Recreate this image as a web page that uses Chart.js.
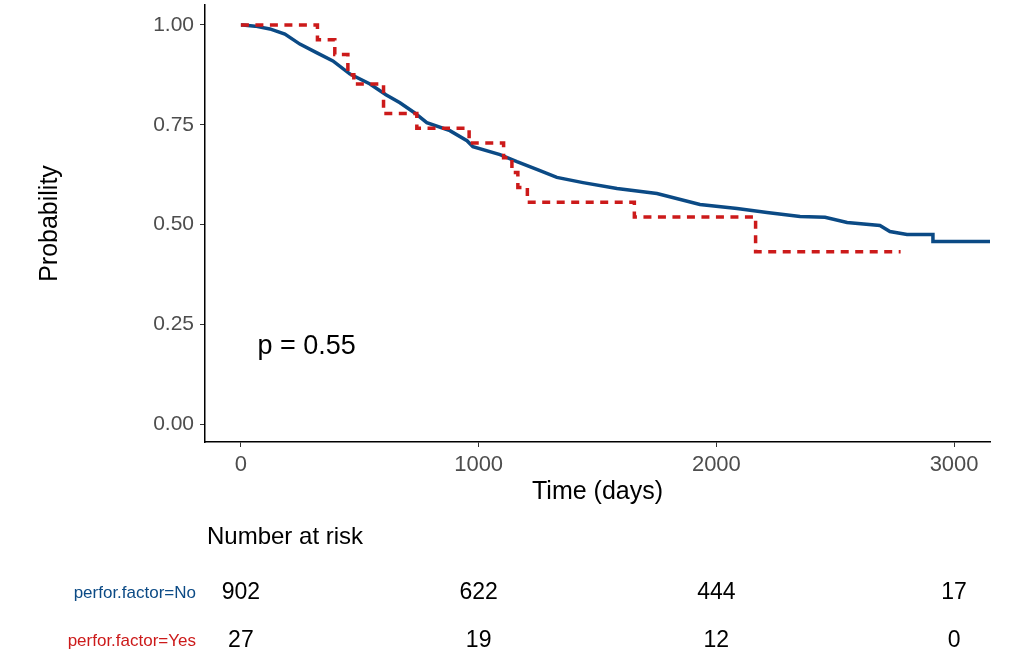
<!DOCTYPE html>
<html>
<head>
<meta charset="utf-8">
<script src="https://cdn.jsdelivr.net/npm/chart.js@4"></script>
<style>
  html, body { margin: 0; padding: 0; background: #fff; }
  #wrap { width: 1029px; height: 672px; }
</style>
</head>
<body>
<div id="wrap"><canvas id="km" width="1029" height="672"></canvas></div>
<script>
// survival curve, perfor.factor=No
var noTime = [0, 8, 60, 122, 185, 248, 320, 387, 459, 543, 610, 669, 730, 782, 879, 951, 976, 1090, 1161, 1250, 1329, 1439, 1582, 1750, 1931, 2087, 2213, 2352, 2457, 2550, 2688, 2730, 2802, 2911, 2911, 3151];
var noSurv = [1.0, 1.0, 0.997, 0.99, 0.977, 0.952, 0.93, 0.91, 0.877, 0.852, 0.825, 0.805, 0.78, 0.755, 0.735, 0.71, 0.695, 0.675, 0.6575, 0.637, 0.618, 0.605, 0.59, 0.5775, 0.55, 0.54, 0.53, 0.52, 0.518, 0.505, 0.4975, 0.4825, 0.475, 0.475, 0.4575, 0.4575];

// survival curve, perfor.factor=Yes (step)
var yesTime = [0, 322, 395, 450, 475, 600, 740, 960, 1105, 1140, 1165, 1205, 1655, 2165, 2775];
var yesSurv = [1.0, 0.963, 0.926, 0.875, 0.852, 0.778, 0.741, 0.704, 0.667, 0.63, 0.593, 0.556, 0.519, 0.432, 0.432];

// number at risk
var riskTimes = [0, 1000, 2000, 3000];
var riskNo = [902, 622, 444, 17];
var riskYes = [27, 19, 12, 0];

var xTicks = [0, 1000, 2000, 3000];
var yTicks = [0, 0.25, 0.5, 0.75, 1.0];

var blue = '#0b4a85';
var red = '#cc1a1a';
var fontFam = '"Liberation Sans", Arial, sans-serif';

function pts(xs, ys) {
    return xs.map(function (x, i) { return { x: x, y: ys[i] }; });
}

// no extra room for label overhang, keep plot box where it is
function noPad(s) {
    s.paddingTop = 0; s.paddingBottom = 0;
    s.paddingLeft = 0; s.paddingRight = 0;
}

var riskTable = {
    id: 'riskTable',
    afterDraw: function (chart) {
        var c = chart.ctx;
        var xs = chart.scales.x;
        var ys = chart.scales.y;
        c.save();
        // p value
        c.font = '27px ' + fontFam;
        c.fillStyle = '#000';
        c.textAlign = 'left';
        c.textBaseline = 'middle';
        c.fillText('p = 0.55', xs.getPixelForValue(70), ys.getPixelForValue(0.195));

        c.font = '24px ' + fontFam;
        c.fillText('Number at risk', 207, 537);

        c.font = '17px ' + fontFam;
        c.textAlign = 'right';
        c.fillStyle = blue;
        c.fillText('perfor.factor=No', 196, 593);
        c.fillStyle = red;
        c.fillText('perfor.factor=Yes', 196, 641);

        c.font = '23px ' + fontFam;
        c.fillStyle = '#000';
        c.textAlign = 'center';
        riskTimes.forEach(function (t, i) {
            var px = xs.getPixelForValue(t);
            c.fillText(String(riskNo[i]), px, 593);
            c.fillText(String(riskYes[i]), px, 641);
        });
        c.restore();
    }
};

var ctx = document.getElementById('km').getContext('2d');
var km = new Chart(ctx, {
    type: 'line',
    data: {
        datasets: [{
            label: 'perfor.factor=Yes',
            data: pts(yesTime, yesSurv),
            borderColor: red,
            borderWidth: 3.5,
            borderDash: [8, 6.5],
            stepped: true,
            pointRadius: 0,
            fill: false
        }, {
            label: 'perfor.factor=No',
            data: pts(noTime, noSurv),
            borderColor: blue,
            borderWidth: 3.5,
            tension: 0,
            pointRadius: 0,
            fill: false
        }]
    },
    options: {
        responsive: false,
        animation: false,
        devicePixelRatio: 1,
        layout: { padding: { top: 5, right: 39, left: 0, bottom: 160 } },
        plugins: {
            legend: { display: false },
            tooltip: { enabled: false }
        },
        scales: {
            x: {
                type: 'linear',
                min: -151,
                max: 3151,
                afterBuildTicks: function (s) { s.ticks = xTicks.map(function (v) { return { value: v }; }); },
                afterFit: function (s) { s.height = 70; noPad(s); },
                grid: { drawOnChartArea: false, drawTicks: true, tickLength: 5, color: '#333' },
                border: { display: true, color: '#000', width: 1.5 },
                ticks: {
                    color: '#4d4d4d', padding: 5, font: { size: 22, family: fontFam }, maxRotation: 0,
                    callback: function (v) { return String(v); }
                },
                title: { display: true, text: 'Time (days)', color: '#000', padding: { top: 0, bottom: 5 }, font: { size: 25, family: fontFam } }
            },
            y: {
                min: -0.045,
                max: 1.05,
                afterBuildTicks: function (s) { s.ticks = yTicks.map(function (v) { return { value: v }; }); },
                afterFit: function (s) { s.width = 205; noPad(s); },
                grid: { drawOnChartArea: false, drawTicks: true, tickLength: 5, color: '#333' },
                border: { display: true, color: '#000', width: 1.5 },
                ticks: {
                    color: '#4d4d4d', padding: 6, font: { size: 21, family: fontFam },
                    callback: function (v) { return Number(v).toFixed(2); }
                },
                title: { display: true, text: 'Probability', color: '#000', padding: { top: 35, bottom: 0 }, font: { size: 25, family: fontFam } }
            }
        }
    },
    plugins: [riskTable]
});
</script>
</body>
</html>
